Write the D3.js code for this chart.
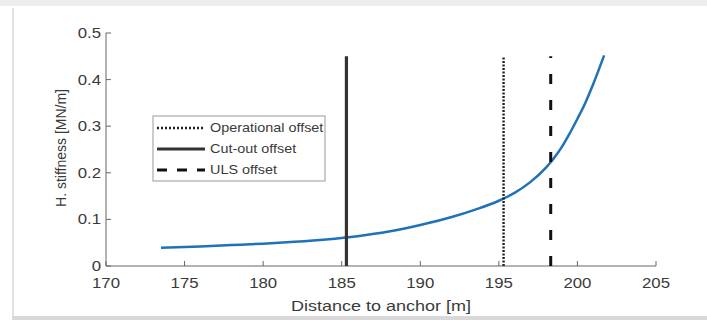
<!DOCTYPE html>
<html>
<head>
    <meta charset="utf-8">
    <script src="https://cdn.jsdelivr.net/npm/d3@7"></script>
    <style>
    body { margin:0; background:#fff; }
    text { font-family:"Liberation Sans", Arial, sans-serif; fill:#3a3a3a; }
    </style>
</head>
<body>
    <script>
    // curve: horizontal stiffness vs distance to anchor
    var distance = [173.5, 176, 178, 180, 182, 184, 186, 188, 190, 192, 193.5, 195, 196, 197, 198, 198.5, 199, 199.5, 200, 200.5, 201, 201.7];
    var stiffness = [0.039, 0.042, 0.045, 0.048, 0.052, 0.057, 0.064, 0.074, 0.088, 0.105, 0.121, 0.140, 0.157, 0.180, 0.211, 0.231, 0.255, 0.284, 0.316, 0.350, 0.390, 0.452];
    // offsets (vertical lines)
    var offsetNames = ["Operational offset", "Cut-out offset", "ULS offset"];
    var offsetX = [195.3, 185.3, 198.3];
    var offsetTop = 0.45;
    var xTicks = [170, 175, 180, 185, 190, 195, 200, 205];
    var yTicks = [0, 0.1, 0.2, 0.3, 0.4, 0.5];

    var width = 707, height = 320;
    var svg = d3.select('body').append('svg')
        .attr('width', width)
        .attr('height', height);

    // window frame bits
    svg.append('rect').attr('x', 0).attr('y', 0).attr('width', width).attr('height', 6).attr('fill', '#ededed');
    svg.append('line').attr('x1', 13).attr('x2', 13).attr('y1', 8).attr('y2', 316).attr('stroke', '#e2e2e2').attr('stroke-width', 2);
    svg.append('rect').attr('x', 12).attr('y', 316).attr('width', width).attr('height', 4).attr('fill', '#d9d9d9');

    var x = d3.scaleLinear().domain([170, 205]).range([106, 656]);
    var y = d3.scaleLinear().domain([0, 0.5]).range([266, 33]);

    var sx = 1.2; // text looks stretched sideways in the picture
    function stretchText(g, px, py, str, size, anchor) {
        return g.append('text')
            .attr('transform', 'translate(' + px + ',' + py + ') scale(' + sx + ',1)')
            .attr('text-anchor', anchor)
            .style('font-size', size + 'px')
            .text(str);
    }

    // axes
    var ax = svg.append('g').attr('stroke', '#666').attr('fill', 'none');
    ax.append('line').attr('x1', x(170)).attr('x2', x(205)).attr('y1', y(0)).attr('y2', y(0));
    ax.append('line').attr('x1', x(170)).attr('x2', x(170)).attr('y1', y(0)).attr('y2', y(0.5));
    ax.selectAll('line.xt').data(xTicks).enter().append('line')
        .attr('x1', function(d){ return x(d); }).attr('x2', function(d){ return x(d); })
        .attr('y1', y(0)).attr('y2', y(0) - 5);
    ax.selectAll('line.yt').data(yTicks).enter().append('line')
        .attr('x1', x(170)).attr('x2', x(170) + 5)
        .attr('y1', function(d){ return y(d); }).attr('y2', function(d){ return y(d); });

    var labels = svg.append('g');
    xTicks.forEach(function(d){
        stretchText(labels, x(d), 288, String(d), 14, 'middle');
    });
    yTicks.forEach(function(d){
        stretchText(labels, x(170) - 5, y(d) + 5, d === 0 ? '0' : d.toFixed(1), 14, 'end');
    });
    stretchText(labels, 381, 311, 'Distance to anchor [m]', 15, 'middle');
    labels.append('text')
        .attr('transform', 'translate(66,148) rotate(-90)')
        .attr('text-anchor', 'middle')
        .style('font-size', '14px')
        .text('H. stiffness [MN/m]');

    // curve
    var pts = distance.map(function(d, i){ return [d, stiffness[i]]; });
    var line = d3.line()
        .x(function(d){ return x(d[0]); })
        .y(function(d){ return y(d[1]); })
        .curve(d3.curveMonotoneX);
    svg.append('path').datum(pts)
        .attr('d', line)
        .attr('fill', 'none')
        .attr('stroke', '#1f72b8')
        .attr('stroke-width', 2.5);

    // vertical offset lines
    var dashes = ['2,1.5', null, '10,16'];
    var widths = [2.4, 3.2, 3];
    var colors = ['#222', '#333', '#111'];
    svg.selectAll('line.off').data(offsetX).enter().append('line')
        .attr('x1', function(d){ return x(d); }).attr('x2', function(d){ return x(d); })
        .attr('y1', y(0)).attr('y2', y(offsetTop))
        .attr('stroke', function(d, i){ return colors[i]; })
        .attr('stroke-width', function(d, i){ return widths[i]; })
        .attr('stroke-dasharray', function(d, i){ return dashes[i]; });

    // legend
    var lg = svg.append('g');
    lg.append('rect').attr('x', 153).attr('y', 116).attr('width', 172).attr('height', 65)
        .attr('fill', '#fff').attr('stroke', '#999').attr('stroke-width', 1);
    var rowY = [128, 149, 170];
    var sampleDash = ['2,2', null, '10,10'];
    offsetNames.forEach(function(n, i){
        lg.append('line').attr('x1', 157).attr('x2', 205).attr('y1', rowY[i]).attr('y2', rowY[i])
            .attr('stroke', colors[i]).attr('stroke-width', widths[i])
            .attr('stroke-dasharray', sampleDash[i]);
        stretchText(lg, 210, rowY[i] + 4, n, 12, 'start');
    });
    </script>
</body>
</html>
